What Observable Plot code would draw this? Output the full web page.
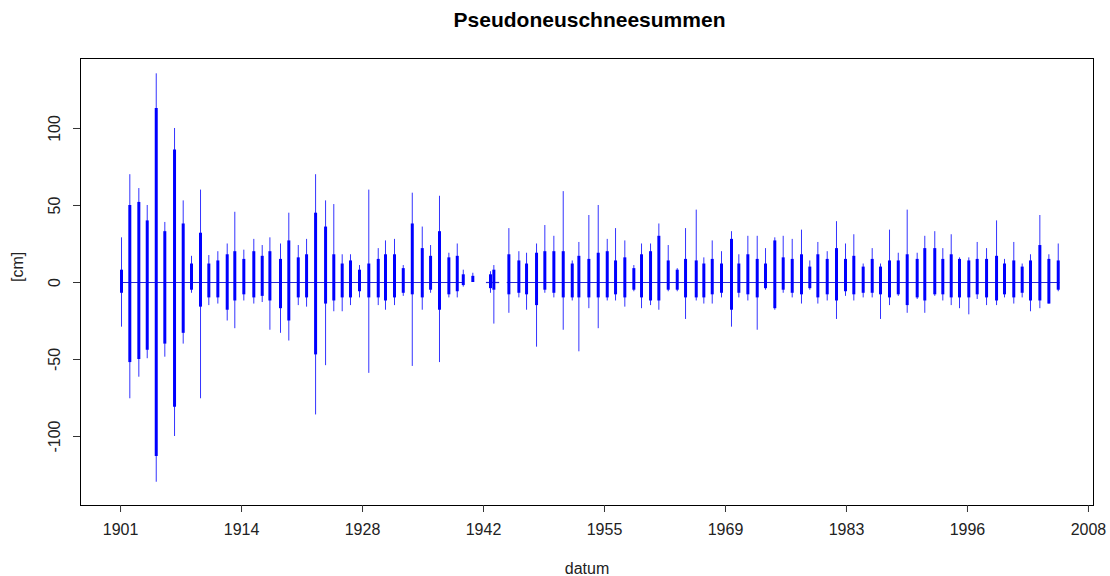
<!DOCTYPE html>
<html>
<head>
<meta charset="utf-8">
<script src="https://cdn.jsdelivr.net/npm/d3@7"></script>
<script src="https://cdn.jsdelivr.net/npm/@observablehq/plot@0.6"></script>
<style>
  html, body { margin: 0; padding: 0; background: white; }
</style>
</head>
<body>
<div id="chart"></div>
<script>
// Winter clusters of daily pseudo new-snow sums (date as decimal year, values in cm)
const datum = [
  1901.11,1902.05,1903.07,1904.02,1905.04,1906.01,1907.11,1908.09,1909.03,1910.05,
  1910.99,1912.01,1913.07,1913.93,1914.95,1916.08,1917.03,1917.9,1919.1,1920.04,
  1921.11,1922.05,1923.07,1924.2,1925.13,1926.08,1927.02,1928.04,1929.09,1930.16,
  1930.98,1932.0,1932.99,1934.01,1935.14,1936.08,1937.09,1938.15,1939.1,1939.78,
  1940.86,1942.86,1943.24,1944.94,1946.07,1946.94,1948.07,1949.01,1950.03,1951.09,
  1952.11,1952.86,1953.99,1955.05,1956.07,1957.01,1958.06,1959.08,1959.95,1960.97,
  1961.91,1962.97,1963.99,1964.93,1966.14,1967.0,1967.95,1969.0,1970.13,1970.96,
  1971.98,1973.04,1973.98,1975.03,1975.98,1977.0,1978.05,1978.99,1979.9,1980.96,
  1982.01,1983.03,1983.97,1985.03,1986.05,1986.99,1988.01,1989.0,1990.01,1991.14,
  1992.0,1993.13,1994.04,1994.99,1995.93,1996.98,1997.93,1998.99,2000.12,2001.02,
  2002.07,2003.02,2003.96,2005.02,2006.04,2007.1
];
// largest positive daily value in each winter
const maxUp = [
  29,70,61,50,135.5,39,100,53,17,60,
  17.5,20,25,45.6,21,28,24,29,25,45,
  24,28,70,53,50.6,18,18,11,60,22,
  27,28,11,58,36,24,56,19,25,8,
  6,7,11,35,20,19,25,37,30,59,
  14,26,43.5,50,28,35,27,11,25,25,
  38,24,9,35,47,16,27,20,33,18,
  30,30,22,29,30,28,34,14,26,20,
  39.5,25,31,12,22,12,34,19,47,19,
  30,33,22,31,16,16,26,22,40,15,
  26,12,18,43.5,18,25
];
// largest negative daily value in each winter
const maxDown = [
  -29,-75.5,-61.5,-49.5,-129.7,-48.5,-100,-40,-7,-75.5,
  -15,-14,-25,-30,-12,-14,-13,-31,-33,-38,
  -15,-16,-86,-54,-19,-19,-15,-10,-59,-15,
  -18,-15,-9,-54.5,-18,-7,-52,-10,-10,-3,
  0,-7,-27,-20,-10,-18,-42,-7,-10,-31,
  -12,-45,-17,-30,-12,-12,-16,-6,-17,-15,
  -18,-6,-6,-24,-12,-14,-14,-10,-29,-10,
  -12,-31,-5,-18,-7,-10,-14,-5,-14,-12,
  -24,-9,-12,-10,-10,-24,-15,-9,-20,-11,
  -20,-9,-12,-15,-17,-21,-11,-15,-15,-10,
  -14,-10,-19,-17,-14,-6
];
// typical upper level of the dense bulk of daily values
const coreUp = [
  8,50,52,40,113,33,86,38,12,32,
  12,14,18,20,15,20,17,20,15,27,
  16,18,45,36,18,12,14,8,12,15,
  18,18,9,38,22,17,33,16,17,5,
  4,5,8,18,14,12,19,20,20,20,
  12,17,15,19,20,14,16,9,18,20,
  30,14,8,15,14,12,15,12,28,12,
  18,15,12,27,16,15,18,10,18,15,
  22,15,17,10,15,10,14,14,18,15,
  22,22,15,18,15,14,15,15,17,12,
  14,10,14,24,15,14
];
// typical lower level of the dense bulk of daily values
const coreDown = [
  -7,-52,-50,-44,-113,-40,-81,-33,-5,-16,
  -10,-10,-18,-12,-8,-10,-9,-12,-17,-25,
  -10,-10,-47,-14,-12,-10,-10,-6,-10,-10,
  -12,-10,-7,-8,-10,-5,-18,-8,-6,-2,
  0,-4,-5,-8,-7,-8,-15,-5,-7,-10,
  -10,-10,-10,-10,-10,-8,-10,-5,-10,-12,
  -12,-5,-5,-10,-10,-10,-8,-7,-18,-7,
  -8,-10,-4,-17,-5,-7,-8,-4,-10,-8,
  -12,-6,-8,-7,-7,-8,-10,-8,-15,-10,
  -12,-8,-8,-10,-10,-10,-8,-10,-12,-8,
  -10,-7,-12,-12,-14,-5
];
// periods with continuous records (zero values between winters)
const periodStart = [1901.0, 1942.4, 1944.75];
const periodEnd   = [1939.82, 1943.9, 2007.3];

// axis ticks
const xTickPos = [1901.0, 1914.69, 1928.38, 1942.07, 1955.76, 1969.45, 1983.14, 1996.83, 2010.52];
const xTickLabels = ["1901","1914","1928","1942","1955","1969","1983","1996","2008"];
const yTicks = [-100, -50, 0, 50, 100];

const rows = datum.map((d, i) => ({datum: d, up: maxUp[i], down: maxDown[i], cu: coreUp[i], cd: coreDown[i]}));
const periods = periodStart.map((s, i) => ({start: s, end: periodEnd[i]}));

const chart = Plot.plot({
  width: 1110,
  height: 576,
  marginLeft: 80,
  marginRight: 17,
  marginTop: 58,
  marginBottom: 71,
  style: {fontFamily: "'Liberation Sans', Arial, sans-serif", fontSize: "16px", color: "#222", background: "white"},
  x: {domain: [1896.47, 2011.09]},
  y: {domain: [-144.8, 145.45]},
  marks: [
    Plot.ruleY(periods, {y: 0, x1: "start", x2: "end", stroke: "#2a2ad0", strokeWidth: 1.2}),
    Plot.ruleX(rows, {x: "datum", y1: "down", y2: "up", stroke: "#0000ff", strokeWidth: 1, strokeOpacity: 0.8}),
    Plot.ruleX(rows, {x: "datum", y1: "cd", y2: "cu", stroke: "#0000ff", strokeWidth: 3}),
    Plot.frame({stroke: "black"}),
    Plot.axisX(xTickPos, {tickSize: 7, tickPadding: 11, tickFormat: d => xTickLabels[xTickPos.indexOf(d)], fontSize: 16, label: null, stroke: "#333"}),
    Plot.axisY(yTicks, {tickSize: 7, tickFormat: () => "", label: null, stroke: "#333"}),
    Plot.text(yTicks, {y: d => d, frameAnchor: "left", dx: -26, rotate: -90, text: d => String(d), fontSize: 16, textAnchor: "middle", lineAnchor: "middle", fill: "#222"}),
    Plot.text(["datum"], {frameAnchor: "bottom", dy: 68, text: d => d, fontSize: 16, fill: "#222"}),
    Plot.text(["[cm]"], {frameAnchor: "left", dx: -63, rotate: -90, text: d => d, fontSize: 16, fill: "#222"}),
    Plot.text(["Pseudoneuschneesummen"], {frameAnchor: "top", dy: -46, dx: 2.5, text: d => d, fontSize: 21, fontWeight: "bold", fill: "black"})
  ]
});
document.getElementById("chart").appendChild(chart);
</script>
</body>
</html>
